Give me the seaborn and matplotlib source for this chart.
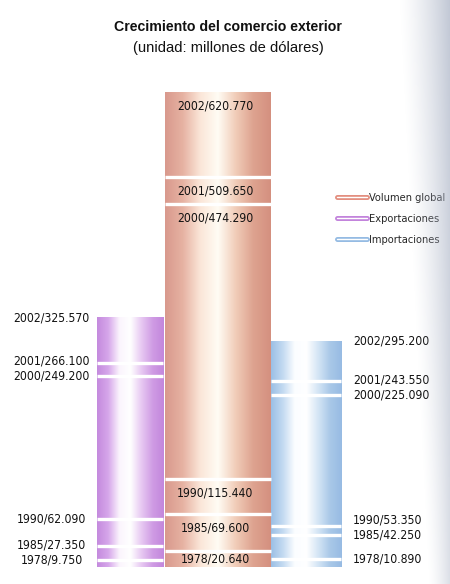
import os
import numpy as np
import pandas as pd
import matplotlib
matplotlib.use("Agg")
import matplotlib.pyplot as plt
from matplotlib import font_manager
from matplotlib.font_manager import FontProperties
from matplotlib.textpath import TextPath
from matplotlib.colors import LinearSegmentedColormap
from matplotlib.lines import Line2D
from matplotlib.legend_handler import HandlerTuple
import seaborn as sns

# ---- data -----------------------------------------------------------------
years = ["1978", "1985", "1990", "2000", "2001", "2002"]
global_vals = [20.640, 69.600, 115.440, 474.290, 509.650, 620.770]
export_vals = [9.750, 27.350, 62.090, 249.200, 266.100, 325.570]
import_vals = [10.890, 42.250, 53.350, 225.090, 243.550, 295.200]

series = ["Exportaciones", "Volumen global", "Importaciones"]
legend_order = ["Volumen global", "Exportaciones", "Importaciones"]
title = "Crecimiento del comercio exterior"
subtitle = "(unidad: millones de dólares)"

values = {"Exportaciones": export_vals,
          "Volumen global": global_vals,
          "Importaciones": import_vals}

# ---- style ----------------------------------------------------------------
sns.set_theme(style="white")
plt.rcParams["font.family"] = ["Liberation Sans", "DejaVu Sans"]


def find_font(patterns, fallback_weight="normal"):
    """Prefer a narrow/condensed face when one is installed."""
    files = [f.fname for f in font_manager.fontManager.ttflist]
    for pat in patterns:
        for fn in files:
            if os.path.basename(fn).lower() == pat.lower():
                return FontProperties(fname=fn)
    return FontProperties(family=["Liberation Sans", "DejaVu Sans"],
                          weight=fallback_weight)


NARROW = find_font(["LiberationSansNarrow-Regular.ttf", "DejaVuSansCondensed.ttf",
                    "RobotoCondensed-Regular.ttf"])
SANS = FontProperties(family=["Liberation Sans", "DejaVu Sans"])
SANS_BOLD = FontProperties(family=["Liberation Sans", "DejaVu Sans"], weight="bold")


def sized(prop, text, width_px, dpi=100):
    """Copy of `prop` scaled so that `text` is about `width_px` wide."""
    w = TextPath((0, 0), text, size=10, prop=prop).get_extents().width
    p = prop.copy()
    p.set_size(10 * width_px / (w * dpi / 72))
    return p


# horizontal shading of each cylinder (edge colour -> highlight -> edge)
shades = {
    "Volumen global": ["#d9998d", "#e6b2a2", "#fbe6d8", "#fffcf4", "#f1cdb9", "#dea390", "#d4907f"],
    "Exportaciones": ["#c48ade", "#d6a6ea", "#fbf4fd", "#ffffff", "#e7c8f2", "#cf9be4", "#c387dc"],
    "Importaciones": ["#9bbfe5", "#c3daf1", "#fbfdff", "#ffffff", "#d4e5f5", "#a9c8e8", "#97bbe3"],
}
legend_colors = {"Volumen global": "#e38f80",
                 "Exportaciones": "#c384dc",
                 "Importaciones": "#95bbe3"}
bar_widths = {"Exportaciones": 0.76, "Volumen global": 1.2, "Importaciones": 0.8}

W, H = 450, 584
fig = plt.figure(figsize=(W / 100, H / 100), dpi=100)
fig.patch.set_facecolor("white")

ax_bottom, ax_top = 567, 92          # pixel rows of the value axis
ax = fig.add_axes([0, 1 - ax_bottom / H, 1, (ax_bottom - ax_top) / H])

df = pd.DataFrame({"serie": series,
                   "total": [max(values[s]) for s in series]})
sns.barplot(data=df, x="serie", y="total", order=series, ax=ax,
            color="white", width=0.8, saturation=1, errorbar=None)

x_left_px, unit_px = 130, 88
ax.set_xlim(-x_left_px / unit_px, (W - x_left_px) / unit_px)
ax.set_ylim(0, max(global_vals))
ax.axis("off")

data_per_px = max(global_vals) / (ax_bottom - ax_top)
label_prop = sized(NARROW, "2002/620.770", 75)


def spread(ys, gap):
    """Push label positions upward so neighbours keep a minimum gap."""
    out = list(ys)
    for i in range(1, len(out)):
        if out[i] - out[i - 1] < gap:
            out[i] = out[i - 1] + gap
    return out


for i, (name, patch) in enumerate(zip(series, ax.patches)):
    w = bar_widths[name]
    x0, x1 = i - w / 2, i + w / 2
    patch.set_x(x0)
    patch.set_width(w)
    patch.set_edgecolor("none")
    top = patch.get_height()
    cmap = LinearSegmentedColormap.from_list(name, shades[name])
    grad = cmap(np.linspace(0, 1, 256))[None, :, :]
    ax.imshow(grad, extent=[x0, x1, 0, top], aspect="auto",
              interpolation="bilinear", zorder=2)

    vals = values[name]
    # white rings between the yearly segments
    ax.hlines(vals[:-1], x0, x1, color="white", lw=2.4, zorder=3)

    labels = [f"{y}/{v:.3f}" for y, v in zip(years, vals)]
    if name == "Volumen global":
        lower = [0] + vals[:-1]
        for lab, v, lo in zip(labels, vals, lower):
            y = max(v - 14 * data_per_px, (v + lo) / 2)
            ax.text(i - 0.03, y, lab, ha="center", va="center",
                    fontproperties=label_prop, color="#111111", zorder=4)
    else:
        ys = spread(vals, 15 * data_per_px)
        for lab, y in zip(labels, ys):
            if name == "Exportaciones":
                ax.annotate(lab, xy=(x0, y), xytext=(-45, 0),
                            textcoords="offset pixels", ha="center",
                            va="center", fontproperties=label_prop,
                            color="#111111")
            else:
                ax.annotate(lab, xy=(x1, y), xytext=(12, 0),
                            textcoords="offset pixels", ha="left",
                            va="center", fontproperties=label_prop,
                            color="#111111")

ax.set_xlim(-x_left_px / unit_px, (W - x_left_px) / unit_px)
ax.set_ylim(0, max(global_vals))

# ---- titles -----------------------------------------------------------------
fig.text(228 / W, 1 - 27 / H, title, ha="center", va="center",
         fontproperties=sized(SANS_BOLD, title, 228), color="#111111")
fig.text(228 / W, 1 - 48 / H, subtitle, ha="center", va="center",
         fontproperties=sized(SANS, subtitle, 188), color="#111111")

# ---- legend -----------------------------------------------------------------
leg_prop = sized(NARROW, "Volumen global", 75)
handles = [(Line2D([], [], color=legend_colors[s], lw=3.6),
            Line2D([], [], color="white", lw=1.0)) for s in legend_order]
fig.legend(handles, legend_order, handler_map={tuple: HandlerTuple(ndivide=1)},
           loc="upper left", bbox_to_anchor=(337 / W, 1 - 193 / H),
           frameon=False, prop=leg_prop, handlelength=2.7, handletextpad=0.25,
           labelspacing=1.0, borderpad=0, borderaxespad=0)

# ---- page shading along the right edge -------------------------------------
yy, xx = np.mgrid[0:H, 0:W]
start = 398 + 30 * yy / H
alpha = np.clip((xx - start) / (W - start), 0, 1) ** 1.4 * (0.72 - 0.3 * yy / H)
shade = np.zeros((H, W, 4))
shade[..., 0] = 168 / 255
shade[..., 1] = 177 / 255
shade[..., 2] = 196 / 255
shade[..., 3] = alpha
hz = fig.add_axes([0, 0, 1, 1], zorder=10)
hz.imshow(shade, extent=[0, W, H, 0], aspect="auto", interpolation="bilinear")
hz.set_xlim(0, W)
hz.set_ylim(H, 0)
hz.axis("off")

fig.savefig("out.png", dpi=100, facecolor="white")
